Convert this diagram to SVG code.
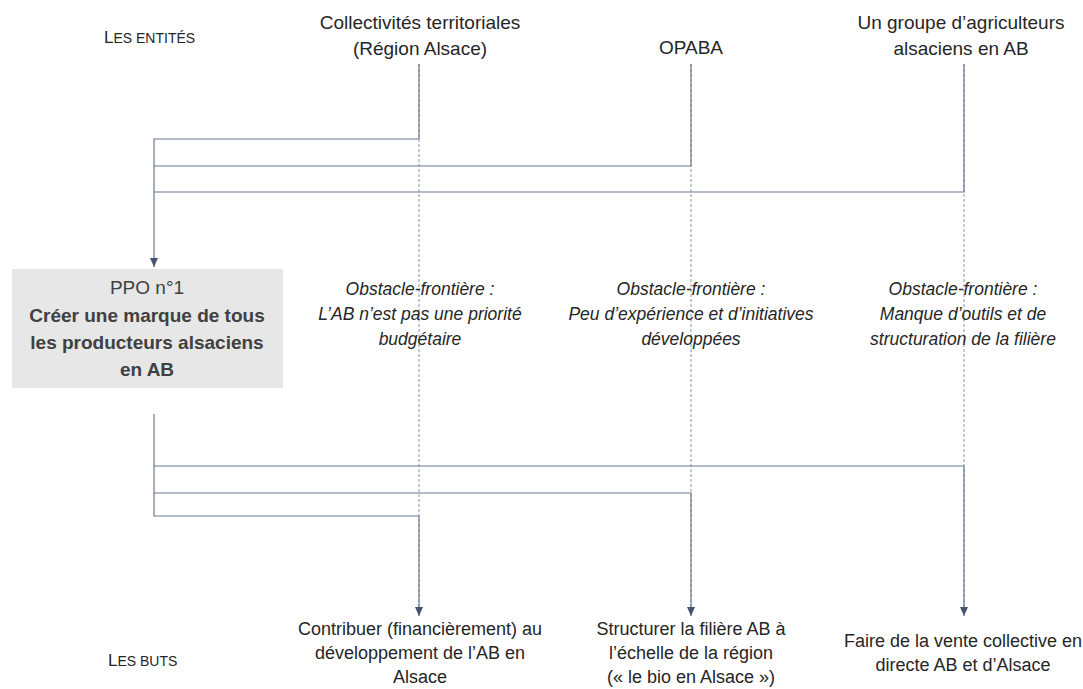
<svg xmlns="http://www.w3.org/2000/svg" width="1083" height="689" viewBox="0 0 1083 689">
<defs>
<marker id="arr" viewBox="0 0 9 8" refX="9" refY="4" markerWidth="9" markerHeight="8" orient="auto" markerUnits="userSpaceOnUse">
<path d="M0,0 L9,4 L0,8 z" fill="#44546a"/>
</marker>
<style>
text{font-family:"Liberation Sans",Arial,sans-serif;fill:#262626}
.ent{font-size:19px;text-anchor:middle}
.obs{font-size:17.5px;font-style:italic;text-anchor:middle}
.goal{font-size:18px;text-anchor:middle}
.box{font-size:19px;text-anchor:middle;fill:#404040}
.b{font-weight:bold}
.sc{font-size:17px}
.conn{fill:none;stroke:#6b7a90;stroke-width:1.2}
.dash{fill:none;stroke:#8d98a8;stroke-width:1;stroke-dasharray:3 2}
</style>
</defs>
<rect width="1083" height="689" fill="#ffffff"/>

<g id="guides">
<line class="dash" x1="419" y1="64" x2="419" y2="610"/>
<line class="dash" x1="691" y1="64" x2="691" y2="610"/>
<line class="dash" x1="964" y1="64" x2="964" y2="610"/>
</g>

<g id="connectors">
<path class="conn" d="M419,64 V139 H154 V267" marker-end="url(#arr)"/>
<path class="conn" d="M691,64 V166 H154"/>
<path class="conn" d="M964,64 V192 H154"/>
<path class="conn" d="M154,414 V516 H419 V616" marker-end="url(#arr)"/>
<path class="conn" d="M154,493 H691 V616" marker-end="url(#arr)"/>
<path class="conn" d="M154,466 H964 V616" marker-end="url(#arr)"/>
</g>

<g id="label-entites">
<text class="sc" x="104" y="43">L<tspan font-size="14px">ES ENTITÉS</tspan></text>
</g>
<g id="label-buts">
<text class="sc" x="108" y="666">L<tspan font-size="14px">ES BUTS</tspan></text>
</g>

<g id="entity-collectivites">
<text class="ent" x="420" y="29">Collectivités territoriales</text>
<text class="ent" x="420" y="55">(Région Alsace)</text>
</g>
<g id="entity-opaba">
<text class="ent" x="691" y="54">OPABA</text>
</g>
<g id="entity-agriculteurs">
<text class="ent" x="961" y="29">Un groupe d’agriculteurs</text>
<text class="ent" x="961" y="55">alsaciens en AB</text>
</g>

<g id="ppo">
<rect x="12" y="269" width="271" height="119" fill="#e7e7e7"/>
<text class="box" x="147" y="294">PPO n°1</text>
<text class="box b" x="147" y="322">Créer une marque de tous</text>
<text class="box b" x="147" y="349">les producteurs alsaciens</text>
<text class="box b" x="147" y="376">en AB</text>
</g>

<g id="obstacle-1">
<text class="obs" x="420" y="295">Obstacle-frontière :</text>
<text class="obs" x="420" y="320">L’AB n’est pas une priorité</text>
<text class="obs" x="420" y="345">budgétaire</text>
</g>
<g id="obstacle-2">
<text class="obs" x="691" y="295">Obstacle-frontière :</text>
<text class="obs" x="691" y="320">Peu d’expérience et d’initiatives</text>
<text class="obs" x="691" y="345">développées</text>
</g>
<g id="obstacle-3">
<text class="obs" x="963" y="295">Obstacle-frontière :</text>
<text class="obs" x="963" y="320">Manque d’outils et de</text>
<text class="obs" x="963" y="345">structuration de la filière</text>
</g>

<g id="goal-1">
<text class="goal" x="420" y="635">Contribuer (financièrement) au</text>
<text class="goal" x="420" y="659">développement de l’AB en</text>
<text class="goal" x="420" y="683">Alsace</text>
</g>
<g id="goal-2">
<text class="goal" x="691" y="635">Structurer la filière AB à</text>
<text class="goal" x="691" y="659">l’échelle de la région</text>
<text class="goal" x="691" y="683">(« le bio en Alsace »)</text>
</g>
<g id="goal-3">
<text class="goal" x="963" y="647">Faire de la vente collective en</text>
<text class="goal" x="963" y="671">directe AB et d’Alsace</text>
</g>
</svg>
